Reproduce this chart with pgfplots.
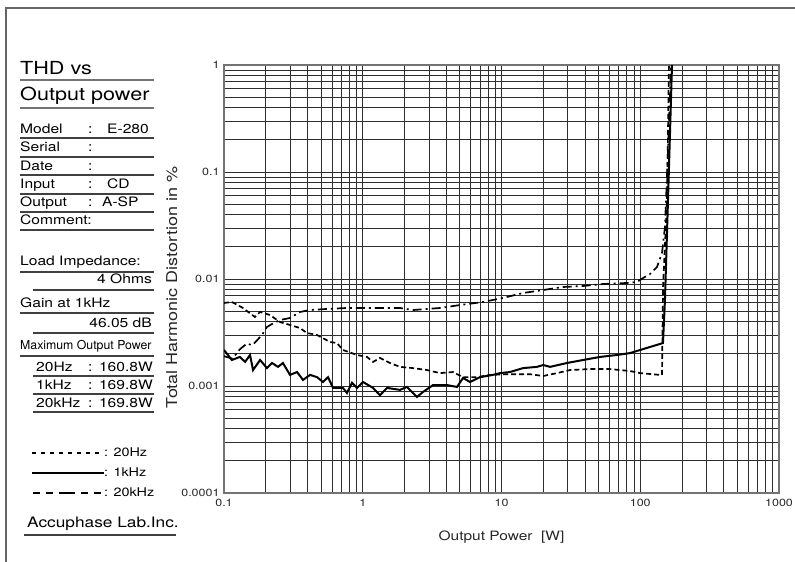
\documentclass[border=0pt]{standalone}
\usepackage{pgfplots}
\pgfplotsset{compat=1.18}
\usepackage{fontspec}
\setmainfont{TeX Gyre Heros}[FakeStretch=1.2]
\newfontfamily\plainfont{TeX Gyre Heros}
\newcommand\fs[1]{\fontsize{#1bp}{#1bp}\selectfont}
\definecolor{gridc}{gray}{0.18}
\definecolor{framec}{gray}{0.45}
\begin{document}
\begin{tikzpicture}
\useasboundingbox (0,0) rectangle (795bp,562bp);
\begin{scope}[x=1bp,y=-1bp,yshift=562bp,
  txt/.style={anchor=base west,inner sep=0pt,font=\fs{13}},
  rtxt/.style={anchor=base east,inner sep=0pt,font=\fs{13}},
  thinrule/.style={line width=1.1bp,black!75},
  thickrule/.style={line width=1.6bp,black!55}]
  % outer frame
  \draw[line width=1.5bp,black!60] (6,562) -- (6,8) -- (795,8);
  % title
  \node[txt,font=\fs{18}] at (20,75) {THD vs};
  \draw[thickrule] (20,80) -- (154,80);
  \node[txt,font=\fs{18}] at (20,101) {Output power};
  \draw[thickrule] (20,108) -- (154,108);
  % info rows
  \node[txt] at (20,134) {Model};   \node[txt] at (88,134) {:}; \node[txt] at (107,134) {E-280};
  \draw[thinrule] (20,138) -- (154,138);
  \node[txt] at (20,152) {Serial};  \node[txt] at (88,152) {:};
  \draw[thinrule] (20,157) -- (154,157);
  \node[txt] at (20,171) {Date};    \node[txt] at (88,171) {:};
  \draw[thinrule] (20,175) -- (154,175);
  \node[txt] at (20,189) {Input};   \node[txt] at (88,189) {:}; \node[txt] at (107,189) {CD};
  \draw[thinrule] (20,194) -- (154,194);
  \node[txt] at (20,207) {Output};  \node[txt] at (88,207) {:}; \node[txt] at (102,207) {A-SP};
  \draw[thinrule] (20,212) -- (154,212);
  \node[txt] at (20,225) {Comment:};
  \draw[thinrule] (20,230) -- (154,230);
  % load / gain
  \node[txt] at (20,266) {Load Impedance:};
  \draw[thinrule] (20,272) -- (154,272);
  \node[rtxt] at (152,284) {4 Ohms};
  \draw[thinrule] (33,290) -- (154,290);
  \node[txt] at (20,308) {Gain at 1kHz};
  \draw[thinrule] (20,313) -- (154,313);
  \node[rtxt] at (152,328) {46.05 dB};
  \draw[thinrule] (33,333) -- (154,333);
  \node[txt,font=\plainfont\fs{12.3}] at (20,350) {Maximum Output Power};
  \draw[thinrule] (20,356) -- (154,356);
  \node[txt] at (36,372) {20Hz};  \node[txt] at (88,372) {:}; \node[rtxt] at (153,372) {160.8W};
  \draw[thinrule] (33,376) -- (154,376);
  \node[txt] at (36,390) {1kHz};  \node[txt] at (88,390) {:}; \node[rtxt] at (153,390) {169.8W};
  \draw[thinrule] (33,394) -- (154,394);
  \node[txt] at (36,408) {20kHz}; \node[txt] at (88,408) {:}; \node[rtxt] at (153,408) {169.8W};
  \draw[thinrule] (33,412) -- (154,412);
  % legend
  \draw[line width=1.2bp,dash pattern=on 4bp off 5bp] (32,453) -- (104,453);
  \node[txt,font=\fs{12}] at (104,457) {: 20Hz};
  \draw[line width=1.2bp] (32,473) -- (104,473);
  \node[txt,font=\fs{12}] at (104,477) {: 1kHz};
  \draw[line width=1.2bp,dash pattern=on 7bp off 6bp on 7bp off 6bp on 16bp off 6bp on 7bp off 6bp on 7bp off 20bp] (33,493) -- (104,493);
  \node[txt,font=\fs{12}] at (104,497) {: 20kHz};
  % company
  \node[txt,font=\fs{14.4}] at (27,528) {Accuphase Lab.Inc.};
  \draw[thinrule] (24,535) -- (176,535);
\end{scope}

\begin{axis}[
  at={(224bp,69bp)}, anchor=south west,
  scale only axis, width=555bp, height=428bp,
  xmode=log, ymode=log,
  xmin=0.1, xmax=1000, ymin=0.0001, ymax=1,
  grid=both,
  major grid style={gridc,line width=0.7bp},
  minor grid style={gridc,line width=0.7bp},
  axis line style={framec,line width=1.4bp},
  major tick length=0pt, minor tick length=0pt,
  xtick={0.1,1,10,100,1000},
  xticklabels={0.1,1,10,100,1000},
  ytick={0.0001,0.001,0.01,0.1,1},
  yticklabels={0.0001,0.001,0.01,0.1,1},
  ticklabel style={font=\fs{10.4}, black!85},
  xticklabel style={yshift=-3bp},
  yticklabel style={xshift=-1bp},
  xlabel={Output Power\ \ [W]},
  ylabel={Total Harmonic Distortion in \%},
  every axis x label/.style={at={(axis description cs:0.5,-0.112)},anchor=base,font=\fs{12.9},black!85},
  every axis y label/.style={at={(axis description cs:-0.094,0.48)},anchor=center,rotate=90,font=\fs{15},black!85},
]
% 1 kHz (solid)
\addplot[black,line width=2bp] coordinates {
(0.1,0.00217)(0.114,0.00175)(0.130,0.00187)(0.142,0.00168)(0.154,0.00195)(0.162,0.00141)
(0.182,0.00175)(0.204,0.00147)(0.222,0.00164)(0.245,0.00151)(0.266,0.00164)(0.299,0.00127)
(0.336,0.00135)(0.371,0.00114)(0.417,0.00127)(0.468,0.00121)(0.517,0.00109)(0.562,0.00121)
(0.611,0.00096)(0.72,0.00096)(0.77,0.00086)(0.836,0.00107)(0.909,0.00096)(1.004,0.00109)
(1.186,0.00096)(1.331,0.00082)(1.496,0.00096)(1.856,0.00092)(2.084,0.00098)(2.46,0.00079)
(2.72,0.00088)(3.21,0.00102)(4.05,0.00102)(4.78,0.00098)(5.28,0.00119)(5.93,0.00109)
(7.0,0.00121)(8.68,0.00127)(9.75,0.00132)(11.5,0.00135)(14.3,0.00147)(18.0,0.00151)
(20.0,0.00157)(22.4,0.00151)(29.6,0.00164)(38.7,0.00175)(51.3,0.00187)(68.0,0.00195)
(84.3,0.00203)(99.6,0.00217)(145.8,0.00252)(150.7,0.0064)(158.5,0.0547)(169.4,1)(172,1.5)
};
% 20 Hz (dashed)
\addplot[black,line width=1.7bp,dash pattern=on 5bp off 3bp] coordinates {
(0.1,0.00597)(0.114,0.0061)(0.137,0.00536)(0.167,0.00442)(0.182,0.00492)(0.2145,0.00461)
(0.2533,0.00396)(0.299,0.00372)(0.353,0.00348)(0.396,0.00313)(0.468,0.003)(0.581,0.00258)
(0.652,0.00252)(0.7205,0.00217)(0.909,0.00195)(1.073,0.00187)(1.186,0.00168)(1.331,0.00183)
(1.572,0.00164)(1.856,0.00151)(2.30,0.00147)(2.90,0.00141)(3.60,0.00132)(4.47,0.00135)
(5.28,0.00121)(6.66,0.00121)(8.26,0.00127)(11.5,0.00129)(16.0,0.00129)(20.0,0.00124)
(25.1,0.00132)(31.2,0.00141)(43.4,0.00144)(60.5,0.00144)(84.3,0.00138)(99.6,0.00132)
(138.7,0.00127)(143.5,0.00127)(146,0.0084)(156,0.0547)(161,1)(162,1.5)
};
% 20 kHz (dash-dot)
\addplot[black,line width=1.7bp,dash pattern=on 9bp off 4bp on 2bp off 4bp] coordinates {
(0.1,0.0019)(0.115,0.0018)(0.13,0.0022)(0.1465,0.0025)(0.16,0.0024)(0.188,0.003)
(0.204,0.00356)(0.222,0.0038)(0.253,0.00414)(0.299,0.00432)(0.353,0.00492)(0.417,0.00513)
(0.553,0.00525)(0.77,0.00536)(1.186,0.00536)(1.856,0.00536)(2.30,0.00513)(3.60,0.00536)
(5.02,0.00571)(7.36,0.0061)(10.25,0.00665)(14.3,0.0074)(20.0,0.00789)(27.7,0.00842)
(38.7,0.0086)(53.9,0.00898)(80.2,0.00918)(94.8,0.00938)(104.7,0.0102)(117.5,0.01113)
(132,0.01295)(143.5,0.0175)(150.7,0.0306)(158.5,0.16)(166.7,1)(168,1.5)
};
\end{axis}
\end{tikzpicture}
\end{document}
